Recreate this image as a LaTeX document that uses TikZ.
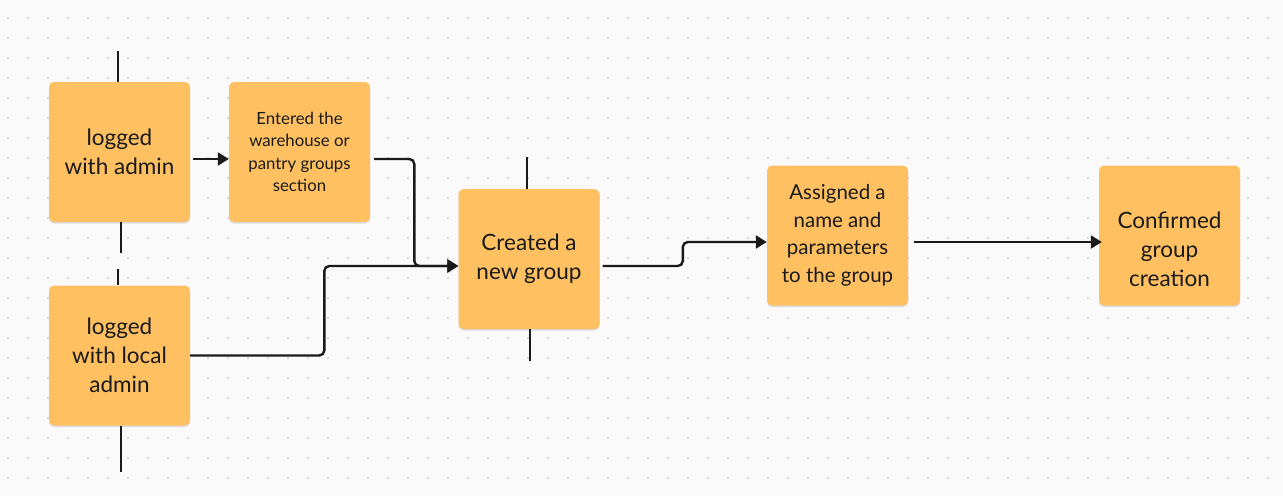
\documentclass[tikz,border=0pt]{standalone}
\usepackage{fontspec}
\setmainfont{Lato}
\usetikzlibrary{arrows.meta,calc,shadows}
\definecolor{bg}{HTML}{FAFAFA}
\definecolor{sticky}{HTML}{FFC062}
\definecolor{ink}{HTML}{1A1A1A}
\definecolor{dotc}{HTML}{B8B8B8}
\begin{document}
\begin{tikzpicture}[x=1pt,y=-1pt,
  note/.style={fill=sticky, rounded corners=5pt, minimum width=141pt, minimum height=140pt,
    inner sep=0pt, align=center, text=ink,
    drop shadow={shadow xshift=0pt, shadow yshift=-1.5pt, opacity=0.12, fill=black}},
  big/.style={font={\fontsize{22.5}{29}\selectfont}},
  mid/.style={font={\fontsize{20.5}{27.6}\selectfont}},
  small/.style={font={\fontsize{16.8}{22.3}\selectfont}},
  arr/.style={draw=ink, line width=2.4pt, -{Triangle[length=11pt,width=13pt]}, rounded corners=5pt},
  stub/.style={draw=ink, line width=2.4pt}]
\useasboundingbox (0,0) rectangle (1283,496);
\fill[bg] (0,0) rectangle (1283,496);
\foreach \i in {0,...,63}{\foreach \j in {0,...,23}{
  \fill[dotc] (8+20*\i,18+20*\j) circle (0.9pt);}}
% nodes
\node[note,big] (A) at (119.5,152) {logged\\with admin};
\node[note,small] (B) at (299.5,152) {Entered the\\warehouse or\\pantry groups\\section};
\node[note,big] (C) at (119.5,355.5) {logged\\with local\\admin};
\node[note,big] (D) at (529,259) {Created a\\new group};
\node[note,mid] (E) at (837.5,235.5) {Assigned a\\name and\\parameters\\to the group};
\node[note,big] (F) at (1169.5,235.5) {\mbox{}\\[16pt]Confirmed\\group\\creation};
% stubs
\coordinate (a1) at (118,51);
\coordinate (a2) at (120.7,253);
\coordinate (c1) at (118,269);
\coordinate (c2) at (121,472);
\coordinate (d1) at (527,157);
\coordinate (d2) at (530,361);
\draw[stub] (a1) -- (a1 |- A.north);
\draw[stub] (a2) -- (a2 |- A.south);
\draw[stub] (c1) -- (c1 |- C.north);
\draw[stub] (c2) -- (c2 |- C.south);
\draw[stub] (d1) -- (d1 |- D.north);
\draw[stub] (d2) -- (d2 |- D.south);
% connectors
\draw[arr] ($(A.east)+(3,7)$) -- ($(B.west)+(0,7)$);
\draw[arr] ($(B.east)+(4,7)$) -| ($(D.west)+(-44,7)$) -- ($(D.west)+(0,7)$);
\draw[arr] (C.east) -| ($(D.west)+(-134,7)$) -- ($(D.west)+(0,7)$);
\draw[arr] ($(D.east)+(3,7)$) -| ($(E.west)+(-84,6.5)$) -- ($(E.west)+(0,6.5)$);
\draw[arr] ($(E.east)+(6,6.5)$) -- ($(F.west)+(3,6.5)$);
\end{tikzpicture}
\end{document}
